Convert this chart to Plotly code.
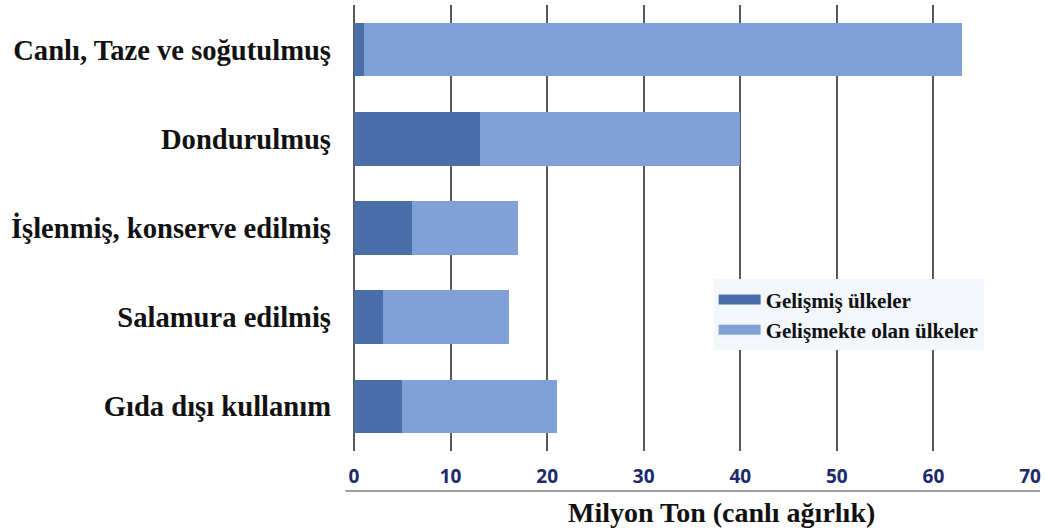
import plotly.graph_objects as go

# Fish utilisation by product form, million tonnes (live weight)
categories = [
    "Canlı, Taze ve soğutulmuş",
    "Dondurulmuş",
    "İşlenmiş, konserve edilmiş",
    "Salamura edilmiş",
    "Gıda dışı kullanım",
]
developed = [1, 13, 6, 3, 5]
developing = [62, 27, 11, 13, 16]
series_names = ["Gelişmiş ülkeler", "Gelişmekte olan ülkeler"]
x_ticks = [0, 10, 20, 30, 40, 50, 60, 70]

dark_blue = "#4a6ea8"
light_blue = "#80a0d8"
serif = "Liberation Serif"

fig = go.Figure()
for name, vals, color in [(series_names[0], developed, dark_blue),
                          (series_names[1], developing, light_blue)]:
    fig.add_trace(go.Bar(
        y=categories, x=vals, orientation="h", name=name,
        marker=dict(color=color, line=dict(width=0)),
        width=0.6, showlegend=False,
    ))
    # wide rectangular swatch for the legend
    fig.add_trace(go.Scatter(
        x=[None], y=[None], mode="lines", name=name,
        line=dict(color=color, width=10),
    ))

fig.update_layout(
    barmode="stack",
    width=1046, height=531,
    margin=dict(l=354, r=16, t=5, b=80),
    paper_bgcolor="white", plot_bgcolor="white",
    legend=dict(
        x=0.532, y=0.385, xanchor="left", yanchor="top",
        traceorder="normal",
        bgcolor="#f3f7fc", borderwidth=0,
        font=dict(family=serif, size=21, color="#111", weight="bold"),
        itemwidth=42, tracegroupgap=0,
    ),
    xaxis=dict(
        range=[0, 70], tickvals=x_ticks, showgrid=True,
        gridcolor="#5a5a5a", gridwidth=1.5, zeroline=True,
        zerolinecolor="#5a5a5a", zerolinewidth=1.5,
        showline=False, ticks="",
        ticklabelstandoff=12,
        tickfont=dict(family="Liberation Sans Narrow, Open Sans", size=19,
                      color="#1c2a6b", weight="bold"),
        fixedrange=True,
    ),
    yaxis=dict(
        autorange="reversed", showgrid=False, showline=False,
        ticks="", ticklabelstandoff=22,
        tickfont=dict(family=serif, size=28.6, color="#111", weight="bold"),
        fixedrange=True,
    ),
    shapes=[dict(
        type="line", xref="paper", yref="paper",
        x0=-0.013, x1=1.015, y0=-0.0897, y1=-0.0897,
        line=dict(color="#a0a0a0", width=2),
    )],
    annotations=[dict(
        text="<b>Milyon Ton (canlı ağırlık)</b>",
        xref="paper", yref="paper", x=0.543, y=-0.137,
        xanchor="center", yanchor="middle", showarrow=False,
        font=dict(family=serif, size=28, color="#111"),
    )],
)

fig.write_html("out.html")
